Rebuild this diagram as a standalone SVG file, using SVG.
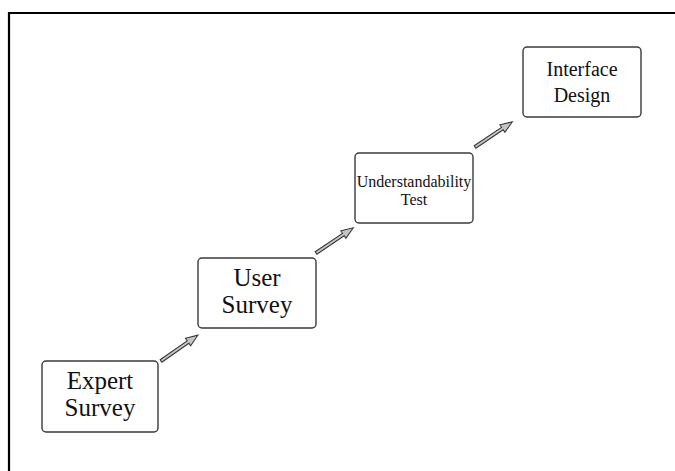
<svg xmlns="http://www.w3.org/2000/svg" width="675" height="471" viewBox="0 0 675 471">
<style>
.box{fill:#fff;stroke:#3a3a3a;stroke-width:1.4}
.t{font-family:"Liberation Serif","Times New Roman",serif;fill:#111;text-anchor:middle}
.arr{fill:#c4c4c4;stroke:#333;stroke-width:1;stroke-linejoin:miter}
</style>
<rect x="0" y="0" width="675" height="471" fill="#fff"/>
<path d="M9,471 V13 H675" fill="none" stroke="#000" stroke-width="2.2"/>
<g id="expert-survey">
<rect class="box" x="42" y="361" width="116" height="71" rx="4"/>
<text class="t" font-size="25" x="100" y="389">Expert</text>
<text class="t" font-size="25" x="100" y="416">Survey</text>
</g>
<g id="user-survey">
<rect class="box" x="198" y="258" width="118" height="70" rx="4"/>
<text class="t" font-size="25" x="257" y="286">User</text>
<text class="t" font-size="25" x="257" y="313">Survey</text>
</g>
<g id="understandability-test">
<rect class="box" x="355" y="153" width="118" height="70" rx="4"/>
<text class="t" font-size="16" x="414" y="187">Understandability</text>
<text class="t" font-size="16" x="414" y="205">Test</text>
</g>
<g id="interface-design">
<rect class="box" x="523" y="47" width="118" height="70" rx="4"/>
<text class="t" font-size="20" x="582" y="76">Interface</text>
<text class="t" font-size="20" x="582" y="102">Design</text>
</g>
<defs>
<polygon id="ar" points="0,-1.5 33,-1.5 33,-4.5 45,0 33,4.5 33,1.5 0,1.5"/>
</defs>
<g id="connectors">
<use href="#ar" class="arr" transform="translate(161,361) rotate(-35)"/>
<use href="#ar" class="arr" transform="translate(316,253) rotate(-34)"/>
<use href="#ar" class="arr" transform="translate(475,147) rotate(-34)"/>
</g>
</svg>
